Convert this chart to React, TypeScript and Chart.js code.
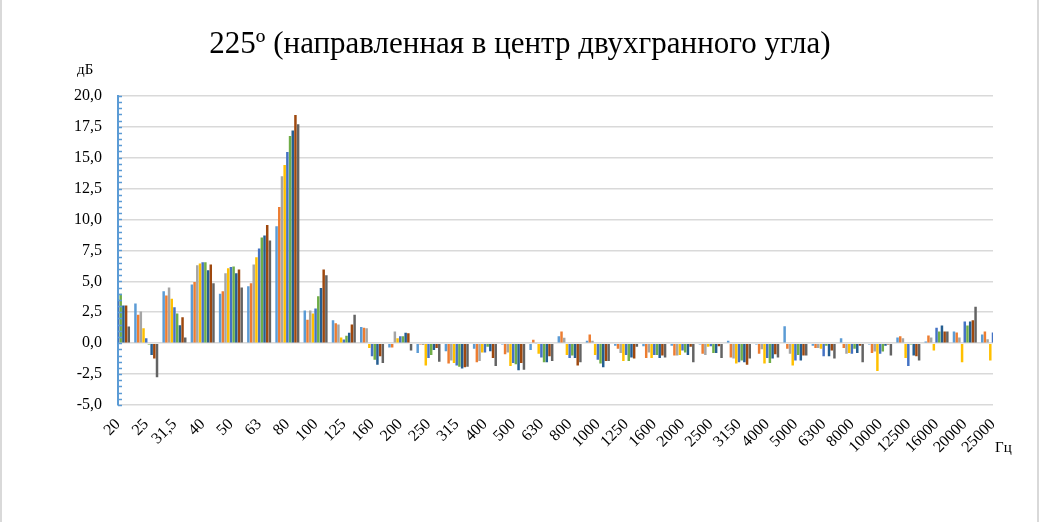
import { useEffect, useRef } from 'react'
import { Chart, registerables } from 'chart.js'

Chart.register(...registerables)

const frequencies = [
    '20', '25', '31,5', '40', '50', '63', '80', '100', '125', '160', '200', '250', '315', '400', '500', '630',
    '800', '1000', '1250', '1600', '2000', '2500', '3150', '4000', '5000', '6300', '8000', '10000', '12500',
    '16000', '20000', '25000'
]

const series1 = [4.2, 3.2, 4.2, 4.75, 4.0, 4.6, 9.45, 2.65, 1.85, 1.3, -0.35, -0.8, -0.65, -0.45, -0.1, -0.55, 0.55, 0.2, -0.2, -0.25, -0.2, -0.1, 0.2, -0.1, 1.37, -0.2, 0.4, -0.1, 0.45, 0.13, 0.94, 0.7]
const series2 = [3.8, 2.3, 3.85, 4.95, 4.2, 4.85, 11.0, 1.9, 1.6, 1.25, -0.35, -0.1, -1.65, -1.55, -0.9, 0.27, 0.95, 0.7, -0.45, -1.2, -1.0, -0.85, -1.15, -0.85, -0.45, -0.4, -0.4, -0.8, 0.55, 0.62, 0.86, 0.94]
const series3 = [3.9, 2.55, 4.5, 6.3, 5.65, 6.35, 13.5, 2.65, 1.5, 1.2, 0.95, -0.15, -1.4, -1.45, -0.75, -0.05, 0.43, 0.2, -0.8, -0.75, -1.0, -0.95, -1.25, -0.5, -0.85, -0.4, -0.85, -0.67, 0.4, 0.46, 0.46, 0.32]
const series4 = [3.0, 1.2, 3.6, 6.45, 6.05, 6.95, 14.4, 2.4, 0.45, -0.4, 0.4, -1.8, -1.6, -0.75, -1.85, -0.85, -0.95, -0.95, -1.45, -1.2, -0.95, -0.3, -1.65, -1.65, -1.8, -0.45, -0.8, -2.25, -1.2, -0.6, -1.55, -1.4]
const series5 = [3.5, 0.4, 2.9, 6.55, 6.15, 7.65, 15.45, 2.8, 0.3, -1.05, 0.55, -1.2, -1.8, -0.75, -1.6, -1.15, -1.2, -1.35, -0.95, -0.95, -0.6, -0.25, -1.55, -1.2, -1.4, -1.05, -0.85, -0.85, -1.85, 1.25, 1.75, 0.86]
const series6 = [4.0, -0.1, 2.4, 6.55, 6.2, 8.55, 16.75, 3.8, 0.6, -1.35, 0.55, -0.95, -1.9, -0.3, -1.7, -1.55, -1.0, -1.65, -1.45, -0.95, -0.75, -0.8, -1.4, -1.6, -0.95, -0.2, -0.45, -0.67, -0.1, 0.94, 1.42, 1.0]
const series7 = [3.05, -0.95, 1.45, 5.9, 5.65, 8.7, 17.2, 4.45, 0.85, -1.75, 0.85, -0.55, -2.05, -0.65, -2.2, -1.55, -1.2, -1.95, -1.15, -1.2, -0.95, -0.8, -1.55, -1.25, -1.4, -1.05, -0.8, -0.2, -1.0, 1.42, 1.75, 1.2]
const series8 = [3.05, -1.25, 2.1, 6.35, 5.95, 9.55, 18.45, 5.95, 1.5, -1.05, 0.8, -0.4, -1.95, -1.2, -1.6, -1.05, -1.8, -1.45, -1.25, -1.0, -0.3, -0.25, -1.75, -0.9, -1.0, -0.6, -0.2, -0.1, -1.05, 0.94, 1.85, 1.3]
const series9 = [1.35, -2.75, 0.45, 4.85, 4.5, 8.3, 17.7, 5.5, 2.3, -1.6, -0.6, -1.5, -1.9, -1.85, -2.15, -1.45, -1.55, -1.45, -0.3, -1.15, -1.55, -1.2, -1.25, -1.15, -1.0, -1.25, -1.55, -1.0, -1.4, 0.94, 2.95, 0.8]

const allSeries = [series1, series2, series3, series4, series5, series6, series7, series8, series9]
const colors = ['#5B9BD5', '#ED7D31', '#A5A5A5', '#FFC000', '#4472C4', '#70AD47', '#255E91', '#9E480E', '#636363']

const TITLE = '225º (направленная в центр двухгранного угла)'
const SERIF = '"Liberation Serif", "Times New Roman", serif'

// frame, title, minor ticks on the value axis, unit captions
const decorPlugin = {
    id: 'decor',
    beforeDraw(chart: Chart) {
        const { ctx, width, height } = chart
        ctx.save()
        ctx.fillStyle = '#fff'
        ctx.fillRect(0, 0, width, height)
        ctx.strokeStyle = '#D9D9D9'
        ctx.lineWidth = 2
        ctx.beginPath()
        ctx.moveTo(1, 0)
        ctx.lineTo(1, height)
        ctx.moveTo(width - 2, 0)
        ctx.lineTo(width - 2, height)
        ctx.stroke()
        ctx.restore()
    },
    afterDraw(chart: Chart) {
        const { ctx, chartArea } = chart
        const y = chart.scales.y
        ctx.save()
        ctx.strokeStyle = '#5B9BD5'
        ctx.lineWidth = 1.5
        ctx.beginPath()
        for (let v = -5; v <= 20.001; v += 0.5) {
            const py = Math.round(y.getPixelForValue(v)) + 0.5
            ctx.moveTo(chartArea.left, py)
            ctx.lineTo(chartArea.left + 4, py)
        }
        ctx.stroke()
        ctx.fillStyle = '#000'
        ctx.textBaseline = 'middle'
        ctx.textAlign = 'center'
        ctx.font = '31px ' + SERIF
        ctx.fillText(TITLE, 520, 45)
        ctx.textAlign = 'left'
        ctx.font = '15px ' + SERIF
        ctx.fillText('дБ', 77, 70)
        ctx.fillText('Гц', 995, 448)
        ctx.restore()
    }
}

export default function App() {
    const chartRef = useRef<HTMLCanvasElement>(null)
    const chartInstance = useRef<Chart | null>(null)

    useEffect(() => {
        document.body.style.margin = '0'
        if (!chartRef.current) return
        if (chartInstance.current) chartInstance.current.destroy()

        chartInstance.current = new Chart(chartRef.current, {
            type: 'bar',
            data: {
                labels: frequencies,
                datasets: allSeries.map((data, i) => ({
                    label: 'Ряд ' + (i + 1),
                    data,
                    backgroundColor: colors[i],
                    categoryPercentage: 0.86,
                    barPercentage: 0.92,
                    clip: 0
                }))
            },
            options: {
                animation: false,
                responsive: true,
                maintainAspectRatio: false,
                layout: { padding: { left: 0, right: 47, top: 0, bottom: 0 } },
                plugins: {
                    legend: { display: false },
                    tooltip: { enabled: false },
                    // kept only to reserve the space; the text is drawn by decorPlugin
                    title: {
                        display: true,
                        text: TITLE,
                        color: 'rgba(0,0,0,0)',
                        font: { family: SERIF, size: 29, weight: 'normal', lineHeight: 1.2 },
                        padding: { top: 27, bottom: 34 }
                    }
                },
                scales: {
                    x: {
                        offset: false,
                        grid: { display: false },
                        border: { display: false },
                        ticks: {
                            color: '#000',
                            font: { family: SERIF, size: 16 },
                            maxRotation: 45,
                            minRotation: 45,
                            autoSkip: false,
                            padding: 2
                        },
                        afterFit: (scale: any) => { scale.height = 117 }
                    },
                    y: {
                        min: -5,
                        max: 20,
                        border: { display: true, color: '#5B9BD5', width: 2 },
                        grid: { color: '#D9D9D9', lineWidth: 1.5, drawTicks: false },
                        ticks: {
                            stepSize: 2.5,
                            color: '#000',
                            padding: 16,
                            font: { family: SERIF, size: 16 },
                            callback: (v: any) => Number(v).toFixed(1).replace('.', ',')
                        },
                        afterFit: (scale: any) => { scale.width = 118 }
                    }
                }
            },
            plugins: [decorPlugin]
        })

        return () => {
            if (chartInstance.current) {
                chartInstance.current.destroy()
                chartInstance.current = null
            }
        }
    }, [])

    return (
        <div style={{ width: 1040, height: 522, position: 'relative' }}>
            <canvas ref={chartRef}></canvas>
        </div>
    )
}
